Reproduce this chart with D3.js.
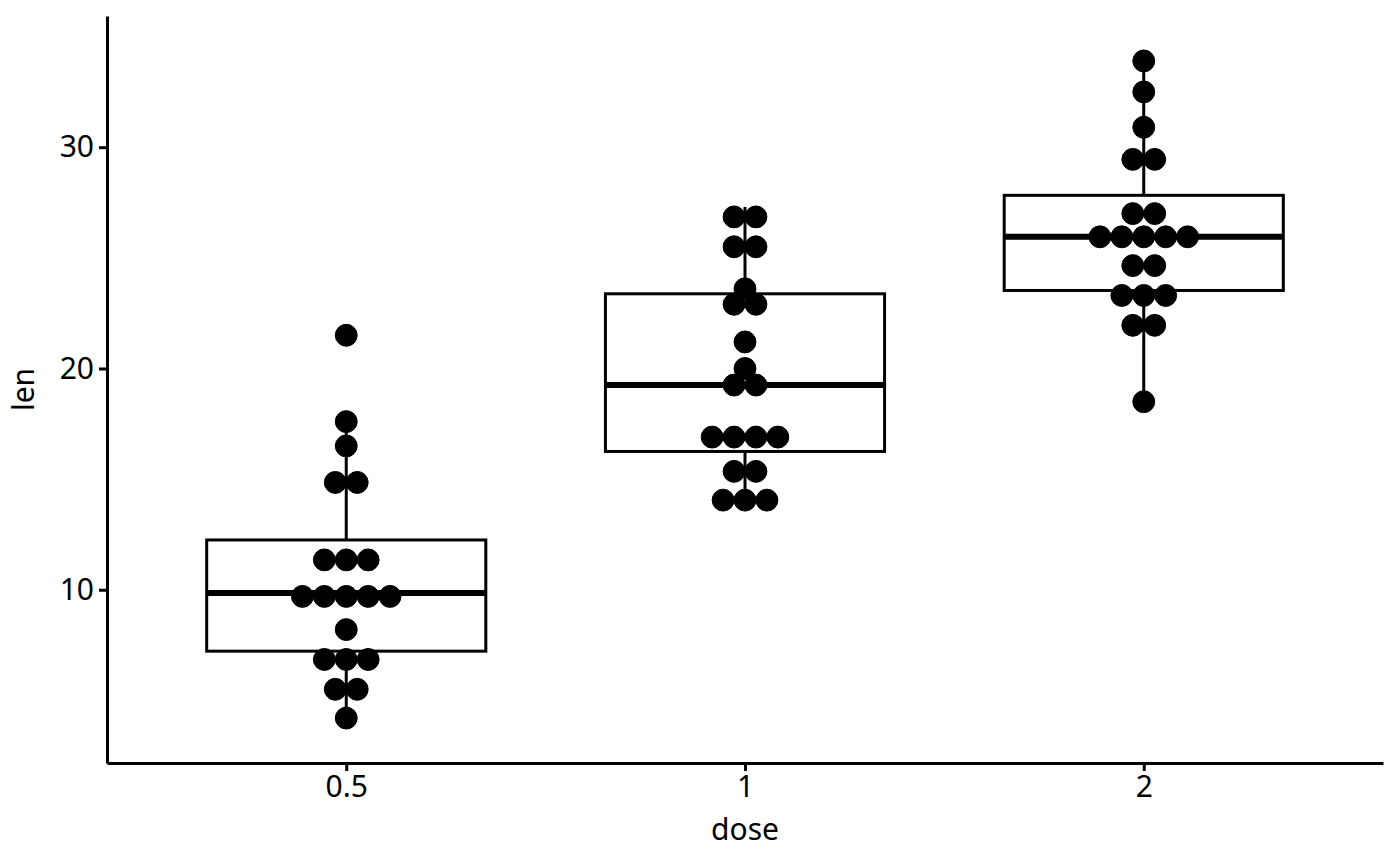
<!DOCTYPE html>
<html>
<head>
<meta charset="utf-8">
<script src="https://cdn.jsdelivr.net/npm/d3@7"></script>
<style>
  body { margin: 0; background: #fff; }
  text { font-family: "Noto Sans", "Open Sans", sans-serif; }
</style>
</head>
<body>
<div id="chart"></div>
<script>
var width = 1400,
	height = 866;

var margin = { top: 16, right: 17, bottom: 103, left: 107 };

// ToothGrowth len values, grouped by dose
var doses = ["0.5", "1", "2"];
var lenDose05 = [4.2, 11.5, 7.3, 5.8, 6.4, 10, 11.2, 11.2, 5.2, 7,
	15.2, 21.5, 17.6, 9.7, 14.5, 10, 8.2, 9.4, 16.5, 9.7];
var lenDose1 = [16.5, 16.5, 15.2, 17.3, 22.5, 17.3, 13.6, 14.5, 18.8, 15.5,
	19.7, 23.3, 23.6, 26.4, 20, 25.2, 25.8, 21.2, 14.5, 27.3];
var lenDose2 = [23.6, 18.5, 33.9, 25.5, 26.4, 32.5, 26.7, 21.5, 23.3, 29.5,
	25.5, 26.4, 22.4, 24.5, 24.8, 30.9, 26.4, 27.3, 29.4, 23];
var yTicks = [10, 20, 30];

var groups = [lenDose05, lenDose1, lenDose2];

var allLen = [].concat(lenDose05, lenDose1, lenDose2);
var binwidth = (d3.max(allLen) - d3.min(allLen)) / 30;

var lo = d3.min(allLen) - binwidth / 2,
	hi = d3.max(allLen) + binwidth / 2,
	pad = (hi - lo) * 0.05;

var innerW = width - margin.left - margin.right,
	innerH = height - margin.top - margin.bottom;

var y = d3.scaleLinear()
	.domain([lo - pad, hi + pad])
	.range([innerH, 0]);

// discrete scale with 0.6 expansion each side
var x = d3.scalePoint()
	.domain(doses)
	.range([0, innerW])
	.padding(0.6);
var step = x.step();

var svg = d3.select("#chart")
	.append("svg")
	.attr("width", width)
	.attr("height", height)
	.append("g")
	.attr("transform", "translate(" + margin.left + "," + margin.top + ")");

var lw = 3;

///functions

function boxStats(vals) {
	var s = vals.slice().sort(d3.ascending);
	var q1 = d3.quantileSorted(s, 0.25),
		med = d3.quantileSorted(s, 0.5),
		q3 = d3.quantileSorted(s, 0.75),
		iqr = q3 - q1;
	var inside = s.filter(function (v) { return v >= q1 - 1.5 * iqr && v <= q3 + 1.5 * iqr; });
	return { q1: q1, med: med, q3: q3, lo: d3.min(inside), hi: d3.max(inside) };
}

// ggplot dotdensity binning
function dotBins(vals) {
	var s = vals.slice().sort(d3.ascending);
	var bins = [], binend = -Infinity, cur;
	s.forEach(function (v) {
		if (v >= binend) {
			binend = v + binwidth;
			cur = [];
			bins.push(cur);
		}
		cur.push(v);
	});
	return bins.map(function (b) {
		return { center: (d3.min(b) + d3.max(b)) / 2, count: b.length };
	});
}

var boxW = step * 0.7;
var dotD = Math.abs(y(0) - y(binwidth));

groups.forEach(function (vals, i) {
	var st = boxStats(vals);
	var cx = x(doses[i]);
	var g = svg.append("g");

	// whiskers
	g.append("line")
		.attr("x1", cx).attr("x2", cx)
		.attr("y1", y(st.q3)).attr("y2", y(st.hi))
		.attr("stroke", "#000").attr("stroke-width", lw);
	g.append("line")
		.attr("x1", cx).attr("x2", cx)
		.attr("y1", y(st.q1)).attr("y2", y(st.lo))
		.attr("stroke", "#000").attr("stroke-width", lw);

	g.append("rect")
		.attr("x", cx - boxW / 2)
		.attr("y", y(st.q3))
		.attr("width", boxW)
		.attr("height", y(st.q1) - y(st.q3))
		.attr("fill", "#fff")
		.attr("stroke", "#000")
		.attr("stroke-width", lw);

	g.append("line")
		.attr("x1", cx - boxW / 2).attr("x2", cx + boxW / 2)
		.attr("y1", y(st.med)).attr("y2", y(st.med))
		.attr("stroke", "#000").attr("stroke-width", lw * 2);

	/* ------- DOTS -------*/
	dotBins(vals).forEach(function (b) {
		for (var k = 0; k < b.count; k++) {
			g.append("circle")
				.attr("cx", cx + (k - (b.count - 1) / 2) * dotD)
				.attr("cy", y(b.center))
				.attr("r", dotD / 2)
				.attr("fill", "#000")
				.attr("stroke", "#000")
				.attr("stroke-width", 1);
		}
	});
});

// axes
var xAxis = svg.append("g")
	.attr("transform", "translate(0," + innerH + ")")
	.call(d3.axisBottom(x).tickSize(8).tickSizeOuter(0).tickPadding(5));
var yAxis = svg.append("g")
	.call(d3.axisLeft(y).tickValues(yTicks).tickSize(8).tickSizeOuter(0).tickPadding(5));

[xAxis, yAxis].forEach(function (a) {
	a.select(".domain").attr("stroke", "#000").attr("stroke-width", lw);
	a.selectAll(".tick line").attr("stroke", "#000").attr("stroke-width", lw);
	a.selectAll(".tick text")
		.attr("fill", "#000")
		.style("font-size", "30px");
});

svg.append("text")
	.attr("x", innerW / 2)
	.attr("y", innerH + 77)
	.attr("text-anchor", "middle")
	.style("font-size", "30px")
	.text("dose");

svg.append("text")
	.attr("transform", "translate(" + (-73) + "," + (innerH / 2) + ") rotate(-90)")
	.attr("text-anchor", "middle")
	.style("font-size", "30px")
	.text("len");
</script>
</body>
</html>
